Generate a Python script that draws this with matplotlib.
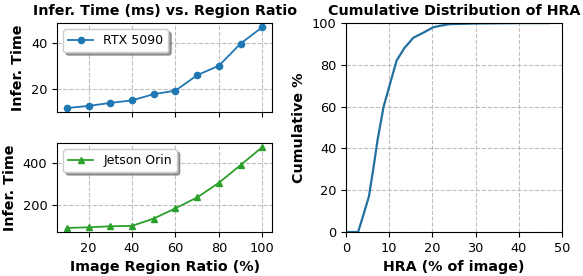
import matplotlib
matplotlib.use("Agg")
import matplotlib.pyplot as plt

ratios = [10, 20, 30, 40, 50, 60, 70, 80, 90, 100]
rtx5090 = [11.8, 12.7, 14.0, 15.1, 17.8, 19.3, 26.0, 30.1, 39.7, 46.8]
jetson = [88, 91, 96, 98, 133, 182, 234, 304, 389, 475]

hra_x = [0, 2.8, 4.0, 5.3, 6.3, 7.3, 8.7, 10.2, 11.7, 13.5, 15.6, 18.0, 20.2, 22.0, 24.0, 30.0, 40.0, 46.8]
hra_cdf = [0, 0, 8, 17, 30, 44, 60, 71, 82, 88, 93, 95.5, 98, 98.8, 99.5, 99.8, 100, 100]

plt.rcParams['font.family'] = 'DejaVu Sans'
fig = plt.figure(figsize=(5.83, 2.76), dpi=100)

ax1 = fig.add_axes([0.0978, 0.594, 0.369, 0.3225])
ax2 = fig.add_axes([0.0978, 0.1594, 0.369, 0.3225], sharex=ax1)
ax3 = fig.add_axes([0.5935, 0.1594, 0.3705, 0.757])

grid_kw = dict(linestyle='--', color='#b0b0b0', alpha=0.8, linewidth=0.8)
LFS = 10.3
TFS = 9.3

ax1.plot(ratios, rtx5090, marker='o', color='#1f77b4', markersize=4.5, linewidth=1.3, label='RTX 5090')
ax1.set_ylabel('Infer. Time', fontsize=LFS, fontweight='bold')
ax1.set_title('Infer. Time (ms) vs. Region Ratio', fontsize=LFS, fontweight='bold')
ax1.grid(True, **grid_kw)
ax1.legend(loc='upper left', shadow=True, fontsize=9)
ax1.tick_params(labelbottom=False, labelsize=TFS)

ax2.plot(ratios, jetson, marker='^', color='#2ca02c', markersize=4.5, linewidth=1.3, label='Jetson Orin')
ax2.set_ylabel('Infer. Time', fontsize=LFS, fontweight='bold')
ax2.set_xlabel('Image Region Ratio (%)', fontsize=LFS, fontweight='bold')
ax2.grid(True, **grid_kw)
ax2.legend(loc='upper left', shadow=True, fontsize=9)
ax2.tick_params(labelsize=TFS)

ax3.plot(hra_x, hra_cdf, color='#22709e', linewidth=1.6)
ax3.set_xlim(0, 50)
ax3.set_ylim(0, 100)
ax3.set_xlabel('HRA (% of image)', fontsize=LFS, fontweight='bold')
ax3.set_ylabel('Cumulative %', fontsize=LFS, fontweight='bold')
ax3.set_title('Cumulative Distribution of HRA', fontsize=LFS, fontweight='bold')
ax3.grid(True, **grid_kw)
ax3.tick_params(labelsize=TFS)

fig.savefig('out.png', dpi=100)
